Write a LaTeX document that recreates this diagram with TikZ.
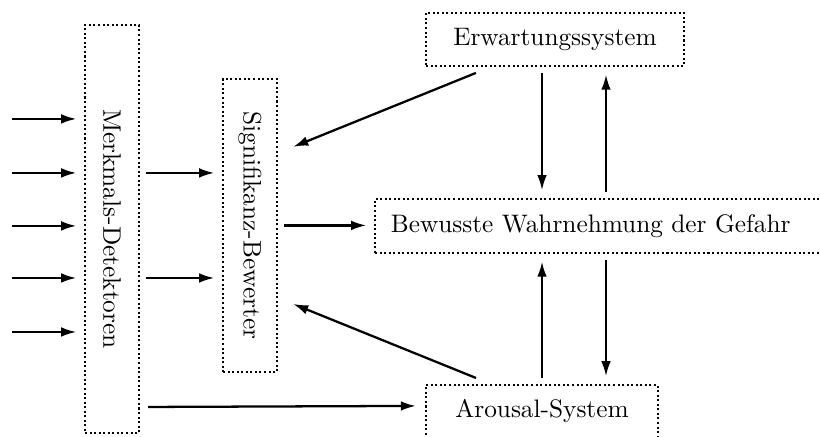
\documentclass[tikz,border=0pt]{standalone}
\usetikzlibrary{arrows.meta}
\begin{document}
\begin{tikzpicture}[
  box/.style={draw, thick, densely dotted, inner sep=0pt},
  arr/.style={line width=0.9pt, -{Latex[length=6pt,width=3.8pt]}, shorten <=2.5pt, shorten >=3pt}]
  \useasboundingbox (0,0) rectangle (11.389,6.069);
  % vertical boxes
  \node[box, minimum width=0.75cm, minimum height=5.667cm] (mk) at (1.556,2.889) {\rotatebox{-90}{Merkmals-Detektoren}};
  \node[box, minimum width=0.75cm, minimum height=4.069cm] (sg) at (3.472,2.938) {\rotatebox{-90}{Signifikanz-Bewerter}};
  % right column
  \node[box, minimum width=3.583cm, minimum height=0.736cm] (erw) at (7.708,5.521) {Erwartungssystem};
  \node[box, anchor=west, text width=6cm, align=left, inner xsep=0.222cm, minimum height=0.75cm] (bew) at (5.194,2.931) {Bewusste Wahrnehmung der Gefahr};
  \node[box, minimum width=3.222cm, minimum height=0.736cm] (ar) at (7.528,0.354) {Arousal-System};
  \coordinate (xr) at (8.417,0);
  % inputs
  \foreach \y [count=\i] in {4.417,3.667,2.931,2.208,1.458} {
    \coordinate (in\i) at (0.167,\y);
    \draw[arr, shorten <=0pt] (in\i) -- (in\i -| mk.west);
  }
  \draw[arr] (mk.east |- in2) -- (sg.west |- in2);
  \draw[arr] (mk.east |- in4) -- (sg.west |- in4);
  \draw[arr] (sg.east) -- (sg.east -| bew.west);
  \draw[arr, shorten <=0pt, shorten >=0pt] ([shift={(0.111,0.375)}]mk.south east) -- ([shift={(-0.125,0.077)}]ar.west);
  % feedback to Signifikanz
  \draw[arr, shorten <=0pt, shorten >=0pt] ([shift={(0.708,-0.083)}]erw.south west) -- ([shift={(0.209,-0.958)}]sg.north east);
  \draw[arr, shorten <=0pt, shorten >=0pt] ([shift={(0.708,0.083)}]ar.north west) -- ([shift={(0.209,0.958)}]sg.south east);
  % up and down
  \draw[arr] (erw.south -| ar.north) -- (bew.north -| ar.north);
  \draw[arr] (bew.north -| xr) -- (erw.south -| xr);
  \draw[arr] (ar.north) -- (bew.south -| ar.north);
  \draw[arr] (bew.south -| xr) -- (ar.north -| xr);
\end{tikzpicture}
\end{document}
